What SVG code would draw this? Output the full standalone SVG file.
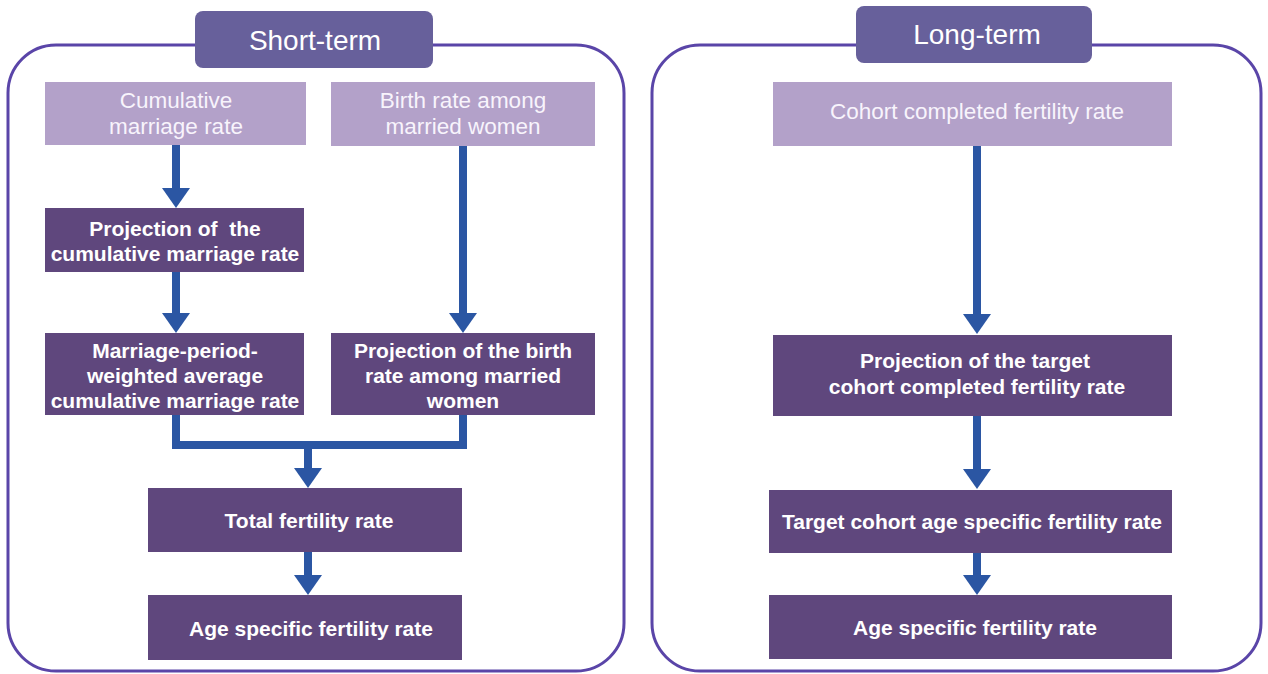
<svg xmlns="http://www.w3.org/2000/svg" width="1268" height="674" viewBox="0 0 1268 674">
<defs>
<style>
.frame{fill:#fff;stroke:#5a45a8;stroke-width:3}
.tab{fill:#67609b}
.light{fill:#b3a1c9}
.dark{fill:#5f477d}
.tt{font-family:"Liberation Sans",Arial,sans-serif;font-size:28px;fill:#fff;text-anchor:middle}
.lt{font-family:"Liberation Sans",Arial,sans-serif;font-size:22.5px;fill:#f8f4fc;text-anchor:middle}
.dt{font-family:"Liberation Sans",Arial,sans-serif;font-size:21px;font-weight:bold;fill:#fff;text-anchor:middle}
.line{fill:none;stroke:#2b56a3;stroke-width:8}
.head{fill:#2b56a3}
</style>
</defs>
<rect width="1268" height="674" fill="#fff"/>
<g id="frame-short"><rect class="frame" x="8" y="45" width="616" height="626" rx="48"/></g>
<g id="frame-long"><rect class="frame" x="652" y="45" width="609" height="626" rx="48"/></g>
<g id="tab-short"><rect class="tab" x="195" y="11" width="238" height="57" rx="8"/><text class="tt" x="315" y="50">Short-term</text></g>
<g id="tab-long"><rect class="tab" x="856" y="6" width="236" height="57" rx="8"/><text class="tt" x="977" y="44">Long-term</text></g>
<g id="connectors">
<line class="line" x1="176" y1="145" x2="176" y2="190"/><polygon class="head" points="162,188 190,188 176,208"/>
<line class="line" x1="176" y1="272" x2="176" y2="315"/><polygon class="head" points="162,313 190,313 176,333"/>
<line class="line" x1="463" y1="146" x2="463" y2="315"/><polygon class="head" points="449,313 477,313 463,333"/>
<polyline class="line" points="176,415 176,445 463,445 463,415"/>
<line class="line" x1="308" y1="445" x2="308" y2="470"/><polygon class="head" points="294,468 322,468 308,488"/>
<line class="line" x1="308" y1="552" x2="308" y2="577"/><polygon class="head" points="294,575 322,575 308,595"/>
<line class="line" x1="977" y1="146" x2="977" y2="316"/><polygon class="head" points="963,314 991,314 977,334"/>
<line class="line" x1="977" y1="416" x2="977" y2="471"/><polygon class="head" points="963,469 991,469 977,489"/>
<line class="line" x1="977" y1="553" x2="977" y2="577"/><polygon class="head" points="963,575 991,575 977,595"/>
</g>
<g id="n-cumulative"><rect class="light" x="45" y="82" width="261" height="63"/><text class="lt" x="176" y="108">Cumulative</text><text class="lt" x="176" y="134">marriage rate</text></g>
<g id="n-birthrate"><rect class="light" x="331" y="82" width="264" height="64"/><text class="lt" x="463" y="108">Birth rate among</text><text class="lt" x="463" y="134">married women</text></g>
<g id="n-proj-cum"><rect class="dark" x="45" y="208" width="259" height="64"/><text class="dt" x="175" y="236" xml:space="preserve">Projection of  the</text><text class="dt" x="175" y="261">cumulative marriage rate</text></g>
<g id="n-weighted"><rect class="dark" x="45" y="333" width="259" height="82"/><text class="dt" x="175" y="358">Marriage-period-</text><text class="dt" x="175" y="383">weighted average</text><text class="dt" x="175" y="408">cumulative marriage rate</text></g>
<g id="n-proj-birth"><rect class="dark" x="331" y="333" width="264" height="82"/><text class="dt" x="463" y="358">Projection of the birth</text><text class="dt" x="463" y="383">rate among married</text><text class="dt" x="463" y="408">women</text></g>
<g id="n-tfr"><rect class="dark" x="148" y="488" width="314" height="64"/><text class="dt" x="309" y="528">Total fertility rate</text></g>
<g id="n-asfr-short"><rect class="dark" x="148" y="595" width="314" height="65"/><text class="dt" x="311" y="636">Age specific fertility rate</text></g>
<g id="n-cohort"><rect class="light" x="773" y="82" width="399" height="64"/><text class="lt" x="977" y="119">Cohort completed fertility rate</text></g>
<g id="n-proj-target"><rect class="dark" x="773" y="335" width="399" height="81"/><text class="dt" x="975" y="368">Projection of the target</text><text class="dt" x="977" y="394">cohort completed fertility rate</text></g>
<g id="n-target-asfr"><rect class="dark" x="769" y="490" width="403" height="63"/><text class="dt" x="972" y="529">Target cohort age specific fertility rate</text></g>
<g id="n-asfr-long"><rect class="dark" x="769" y="595" width="403" height="64"/><text class="dt" x="975" y="635">Age specific fertility rate</text></g>
</svg>
